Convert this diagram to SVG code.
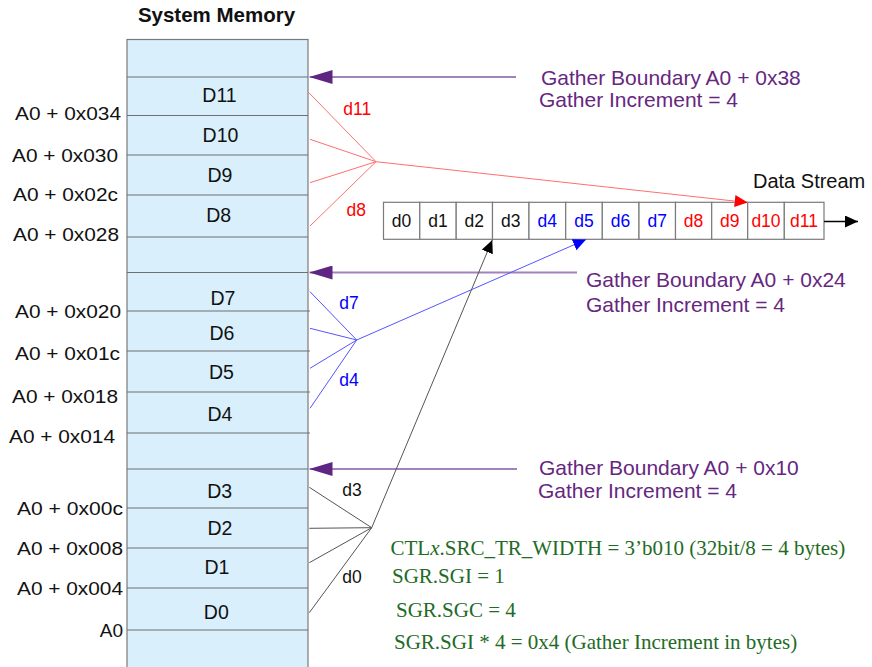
<svg xmlns="http://www.w3.org/2000/svg" width="872" height="667" viewBox="0 0 872 667">
  <defs>
    <style>
      .sans { font-family: "Liberation Sans", Arial, sans-serif; }
      .serif { font-family: "Liberation Serif", "Times New Roman", serif; }
      .title { font-size: 20.5px; font-weight: bold; fill: #111; text-anchor: middle; }
      .addr { font-size: 19px; fill: #111; text-anchor: end; }
      .word { font-size: 19.5px; fill: #111; text-anchor: middle; }
      .row { stroke: #707070; stroke-width: 1.2; }
      .cell { fill: #fff; stroke: #7a7a7a; stroke-width: 1.2; }
      .ctext { font-size: 17.5px; text-anchor: middle; }
      .lbl { font-size: 17.5px; }
      .red { fill: #ff0000; }
      .blue { fill: #0000ff; }
      .blk { fill: #111; }
      .note { font-size: 21px; fill: #66277f; }
      .cfg { font-size: 21px; fill: #226b26; }
      .bnd { stroke: #a282bd; stroke-width: 2; fill: none; }
      .fan-r { stroke: #ff6f6f; stroke-width: 1; fill: none; }
      .fan-b { stroke: #5555ff; stroke-width: 1; fill: none; }
      .fan-k { stroke: #555; stroke-width: 1; fill: none; }
    </style>
    <marker id="head-bnd" viewBox="0 0 23 14" refX="23" refY="7" markerWidth="23" markerHeight="14" markerUnits="userSpaceOnUse" orient="auto">
      <path d="M0,0 L23,7 L0,14 Z" fill="#5e2582"/>
    </marker>
    <marker id="head-r" viewBox="0 0 13 12" refX="13" refY="6" markerWidth="13" markerHeight="12" markerUnits="userSpaceOnUse" orient="auto">
      <path d="M0,0 L13,6 L0,12 Z" fill="#ff0000"/>
    </marker>
    <marker id="head-b" viewBox="0 0 13 12" refX="13" refY="6" markerWidth="13" markerHeight="12" markerUnits="userSpaceOnUse" orient="auto">
      <path d="M0,0 L13,6 L0,12 Z" fill="#0000ff"/>
    </marker>
    <marker id="head-k" viewBox="0 0 13 12" refX="13" refY="6" markerWidth="13" markerHeight="12" markerUnits="userSpaceOnUse" orient="auto">
      <path d="M0,0 L13,6 L0,12 Z" fill="#000"/>
    </marker>
  </defs>

  <rect width="872" height="667" fill="#fff"/>

  <!-- System memory column -->
  <g id="system-memory">
    <text class="sans title" x="216.5" y="22">System Memory</text>
    <rect x="127" y="39.5" width="181" height="640" fill="#d9effb" stroke="#7a7a7a" stroke-width="1.2"/>
    <g class="row">
      <line x1="127" y1="77" x2="308" y2="77"/>
      <line x1="127" y1="115.5" x2="308" y2="115.5"/>
      <line x1="127" y1="155" x2="308" y2="155"/>
      <line x1="127" y1="195" x2="308" y2="195"/>
      <line x1="127" y1="237" x2="308" y2="237"/>
      <line x1="127" y1="272.5" x2="308" y2="272.5"/>
      <line x1="127" y1="311" x2="310" y2="311"/>
      <line x1="127" y1="351" x2="310" y2="351"/>
      <line x1="127" y1="392" x2="310" y2="392"/>
      <line x1="127" y1="433" x2="310" y2="433"/>
      <line x1="127" y1="469" x2="308" y2="469"/>
      <line x1="127" y1="508" x2="308" y2="508"/>
      <line x1="127" y1="548" x2="308" y2="548"/>
      <line x1="127" y1="588" x2="308" y2="588"/>
      <line x1="127" y1="630" x2="308" y2="630"/>
    </g>
    <g class="sans word">
      <text x="219.5" y="102">D11</text>
      <text x="220.5" y="142">D10</text>
      <text x="220" y="182">D9</text>
      <text x="218.7" y="222">D8</text>
      <text x="223" y="305">D7</text>
      <text x="222" y="340">D6</text>
      <text x="221.5" y="378.5">D5</text>
      <text x="220" y="421">D4</text>
      <text x="219.7" y="498">D3</text>
      <text x="220" y="535">D2</text>
      <text x="217" y="573.5">D1</text>
      <text x="216.3" y="618.5">D0</text>
    </g>
    <g class="sans addr">
      <text x="121" y="120" textLength="106" lengthAdjust="spacingAndGlyphs">A0 + 0x034</text>
      <text x="118" y="162" textLength="106" lengthAdjust="spacingAndGlyphs">A0 + 0x030</text>
      <text x="118" y="201" textLength="105" lengthAdjust="spacingAndGlyphs">A0 + 0x02c</text>
      <text x="119" y="241" textLength="106" lengthAdjust="spacingAndGlyphs">A0 + 0x028</text>
      <text x="121" y="318" textLength="106" lengthAdjust="spacingAndGlyphs">A0 + 0x020</text>
      <text x="120" y="360" textLength="105" lengthAdjust="spacingAndGlyphs">A0 + 0x01c</text>
      <text x="118" y="403" textLength="106" lengthAdjust="spacingAndGlyphs">A0 + 0x018</text>
      <text x="115" y="443" textLength="106" lengthAdjust="spacingAndGlyphs">A0 + 0x014</text>
      <text x="123" y="515" textLength="106" lengthAdjust="spacingAndGlyphs">A0 + 0x00c</text>
      <text x="123" y="555" textLength="106" lengthAdjust="spacingAndGlyphs">A0 + 0x008</text>
      <text x="123" y="595" textLength="106" lengthAdjust="spacingAndGlyphs">A0 + 0x004</text>
      <text x="123" y="637">A0</text>
    </g>
  </g>

  <!-- Gather boundary notes -->
  <g id="boundary-0x38">
    <text class="sans note" x="541" y="85">Gather Boundary A0 + 0x38</text>
    <text class="sans note" x="539" y="106.5">Gather Increment = 4</text>
  </g>
  <g id="boundary-0x24">
    <text class="sans note" x="586" y="286.5">Gather Boundary A0 + 0x24</text>
    <text class="sans note" x="586" y="311.5">Gather Increment = 4</text>
  </g>
  <g id="boundary-0x10">
    <text class="sans note" x="539" y="475">Gather Boundary A0 + 0x10</text>
    <text class="sans note" x="538" y="497.5">Gather Increment = 4</text>
  </g>

  <!-- Output data stream -->
  <g id="data-stream">
    <text class="sans" x="753" y="188" font-size="20" fill="#111">Data Stream</text>
    <rect class="cell" x="383.5" y="202.3" width="36.3" height="37"/>
    <rect class="cell" x="419.8" y="202.3" width="36.4" height="37"/>
    <rect class="cell" x="456.2" y="202.3" width="36.3" height="37"/>
    <rect class="cell" x="492.5" y="202.3" width="36.5" height="37"/>
    <rect class="cell" x="529" y="202.3" width="36.7" height="37"/>
    <rect class="cell" x="565.7" y="202.3" width="36.6" height="37"/>
    <rect class="cell" x="602.3" y="202.3" width="36.7" height="37"/>
    <rect class="cell" x="639" y="202.3" width="36.5" height="37"/>
    <rect class="cell" x="675.5" y="202.3" width="36.2" height="37"/>
    <rect class="cell" x="711.7" y="202.3" width="36" height="37"/>
    <rect class="cell" x="747.7" y="202.3" width="36.6" height="37"/>
    <rect class="cell" x="784.3" y="202.3" width="39.7" height="37"/>
    <g class="sans ctext">
      <text class="blk" x="401.6" y="227">d0</text>
      <text class="blk" x="438" y="227">d1</text>
      <text class="blk" x="474.3" y="227">d2</text>
      <text class="blk" x="510.7" y="227">d3</text>
      <text class="blue" x="547.3" y="227">d4</text>
      <text class="blue" x="584" y="227">d5</text>
      <text class="blue" x="620.6" y="227">d6</text>
      <text class="blue" x="657.2" y="227">d7</text>
      <text class="red" x="693.6" y="227">d8</text>
      <text class="red" x="729.7" y="227">d9</text>
      <text class="red" x="766" y="227">d10</text>
      <text class="red" x="804" y="227">d11</text>
    </g>
  </g>

  <!-- Descriptor register settings -->
  <g id="settings" class="serif cfg">
    <text x="390.5" y="555">CTL<tspan font-style="italic">x</tspan>.SRC_TR_WIDTH = 3’b010 (32bit/8 = 4 bytes)</text>
    <text x="392" y="583.3">SGR.SGI = 1</text>
    <text x="396" y="616.5">SGR.SGC = 4</text>
    <text x="394" y="649">SGR.SGI * 4 = 0x4 (Gather Increment in bytes)</text>
  </g>

  <!-- Connectors -->
  <g id="connectors">
    <!-- gather boundary pointers -->
    <line class="bnd" x1="516" y1="77" x2="309.5" y2="77" marker-end="url(#head-bnd)"/>
    <line class="bnd" x1="577" y1="272.5" x2="309.5" y2="272.5" marker-end="url(#head-bnd)"/>
    <line class="bnd" x1="517" y1="469" x2="309.5" y2="469" marker-end="url(#head-bnd)"/>

    <!-- D8..D11 gathered into the stream -->
    <polyline class="fan-r" points="308.5,92.3 376,161.7"/>
    <polyline class="fan-r" points="310,139.3 376,161.7"/>
    <polyline class="fan-r" points="310,182.7 376,161.7"/>
    <polyline class="fan-r" points="310,226 376,161.7"/>
    <line class="fan-r" x1="376" y1="161.7" x2="747.7" y2="202.5" marker-end="url(#head-r)"/>
    <text class="sans lbl red" x="343.3" y="115">d11</text>
    <text class="sans lbl red" x="346.5" y="216">d8</text>

    <!-- D4..D7 -->
    <polyline class="fan-b" points="310,291.7 356.7,340"/>
    <polyline class="fan-b" points="310,328.3 356.7,340"/>
    <polyline class="fan-b" points="310,368.3 356.7,340"/>
    <polyline class="fan-b" points="310,408.3 356.7,340"/>
    <line class="fan-b" x1="356.7" y1="340" x2="586" y2="239.5" marker-end="url(#head-b)"/>
    <text class="sans lbl blue" x="339.3" y="309.3">d7</text>
    <text class="sans lbl blue" x="339.3" y="385.7">d4</text>

    <!-- D0..D3 -->
    <polyline class="fan-k" points="309.3,487.3 371.7,527.7"/>
    <polyline class="fan-k" points="309.3,528.3 371.7,527.7"/>
    <polyline class="fan-k" points="309.3,562.7 371.7,527.7"/>
    <polyline class="fan-k" points="309.3,612.7 371.7,527.7"/>
    <line class="fan-k" x1="371.7" y1="527.7" x2="492.3" y2="240" marker-end="url(#head-k)"/>
    <text class="sans lbl blk" x="342.3" y="496">d3</text>
    <text class="sans lbl blk" x="342.3" y="583.3">d0</text>

    <!-- stream output -->
    <line x1="824" y1="221.5" x2="858" y2="221.5" stroke="#000" stroke-width="1.5" marker-end="url(#head-k)"/>
  </g>
</svg>
